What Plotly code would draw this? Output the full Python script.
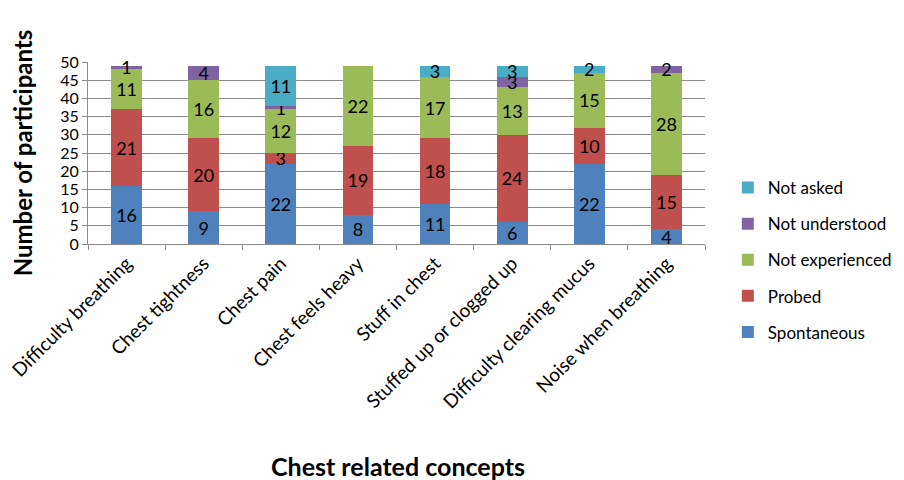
import plotly.graph_objects as go

categories = ["Difficulty breathing", "Chest tightness", "Chest pain", "Chest feels heavy",
              "Stuff in chest", "Stuffed up or clogged up", "Difficulty clearing mucus",
              "Noise when breathing"]
spontaneous = [16, 9, 22, 8, 11, 6, 22, 4]
probed = [21, 20, 3, 19, 18, 24, 10, 15]
not_experienced = [11, 16, 12, 22, 17, 13, 15, 28]
not_understood = [1, 4, 1, 0, 0, 3, 0, 2]
not_asked = [0, 0, 11, 0, 3, 3, 2, 0]

series = [
    ("Spontaneous", spontaneous, "#4F81BD"),
    ("Probed", probed, "#C0504D"),
    ("Not experienced", not_experienced, "#9BBB59"),
    ("Not understood", not_understood, "#8064A2"),
    ("Not asked", not_asked, "#4BACC6"),
]

FONT = "Lato, Liberation Sans, sans-serif"
fig = go.Figure()
n = len(series)
for i, (name, vals, color) in enumerate(series):
    fig.add_trace(go.Bar(
        name=name, x=categories, y=vals, marker_color=color,
        marker_line_width=0, legendgroup=name, legendrank=n - i,
        text=[str(v) if v else "" for v in vals],
        textposition="inside", insidetextanchor="middle", textangle=0,
        constraintext="none",
        textfont=dict(size=18, color="black", family=FONT),
        cliponaxis=False,
    ))

fig.update_layout(
    barmode="stack", bargap=0.6,
    width=904, height=480,
    margin=dict(l=80, r=207, t=54, b=244, autoexpand=False),
    plot_bgcolor="white", paper_bgcolor="white",
    font=dict(family=FONT, size=18, color="black"),
    showlegend=True,
    legend=dict(traceorder="grouped", x=1.037, xanchor="left", y=-0.088, yanchor="middle",
                font=dict(size=17), itemwidth=30, tracegroupgap=11),
    annotations=[
        dict(text="<b>Chest related concepts</b>", xref="paper", yref="paper",
             x=0.502, y=-1.22, showarrow=False,
             font=dict(size=25), xanchor="center", yanchor="middle"),
    ],
)
fig.update_yaxes(range=[0, 50], dtick=5, showgrid=True, gridcolor="#8C8C8C", gridwidth=1,
                 showline=True, linecolor="#8C8C8C", ticks="outside", ticklen=5,
                 tickcolor="#8C8C8C", tickfont=dict(size=16), automargin=False,
                 title=dict(text="<b>Number of participants</b>", font=dict(size=24),
                            standoff=30))
fig.update_xaxes(showline=True, linecolor="#8C8C8C", tickangle=-45, tickfont=dict(size=19),
                 ticks="outside", tickson="boundaries", ticklen=5, tickcolor="#8C8C8C",
                 automargin=False)

fig.write_html("out.html")
